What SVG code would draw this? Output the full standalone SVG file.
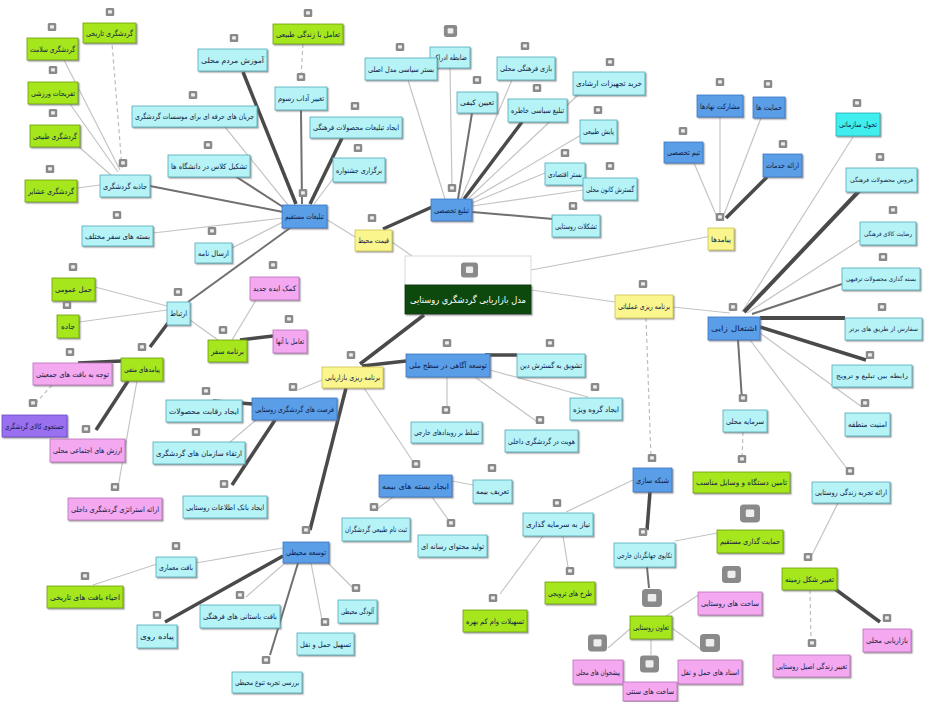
<svg xmlns="http://www.w3.org/2000/svg" xmlns:xlink="http://www.w3.org/1999/xlink" width="927" height="702" viewBox="0 0 927 702">
<defs>
<filter id="sh" x="-20%" y="-30%" width="150%" height="170%"><feDropShadow dx="1.3" dy="1.3" stdDeviation="0.6" flood-color="#666" flood-opacity="0.6"/></filter>
<symbol id="ic" viewBox="0 0 9 8" width="9" height="8"><rect x="0" y="0" width="9" height="8" rx="1.6" fill="#8a8a8a"/><rect x="2.6" y="2.2" width="3.8" height="3.4" rx="0.6" fill="#eeeeee"/></symbol>
</defs>
<style>
.n{filter:url(#sh);stroke-width:0.8}
.cy{fill:#b5f3f7;stroke:#4fa9b5}
.gr{fill:#a6e61c;stroke:#6f9a10}
.bl{fill:#5a9ee8;stroke:#3b74c0}
.ye{fill:#faf58c;stroke:#c8c050}
.pk{fill:#f3a8f0;stroke:#b870b8}
.pu{fill:#9a70f0;stroke:#6a48c0}
.cb{fill:#40eef0;stroke:#2aaab0}
text{font-family:"DejaVu Sans",sans-serif;font-size:7.5px;fill:#0f1a44;text-anchor:middle}
text.s{font-size:6.2px}
.t{stroke:#c4c4c4;stroke-width:1.2;fill:none}
.m{stroke:#707070;stroke-width:2;fill:none}
.k{stroke:#4a4a4a;stroke-width:3.5;fill:none}
.d{stroke:#bdbdbd;stroke-width:1.2;stroke-dasharray:4 3;fill:none}
</style>
<rect width="927" height="702" fill="#ffffff"/>
<g id="connectors">
<line class="t" x1="531" y1="270" x2="712" y2="236"/>
<line class="t" x1="531" y1="290" x2="615" y2="302"/>
<line class="t" x1="392" y1="242" x2="412" y2="256"/>
<line class="k" x1="424" y1="315" x2="360" y2="364"/>
<line class="t" x1="355" y1="237" x2="326" y2="219"/>
<line class="k" x1="383" y1="229" x2="432" y2="207"/>
<line class="k" x1="296" y1="204" x2="243" y2="72"/>
<line class="m" x1="302" y1="204" x2="301" y2="110"/>
<line class="k" x1="310" y1="204" x2="342" y2="138"/>
<line class="t" x1="314" y1="204" x2="335" y2="176"/>
<line class="t" x1="288" y1="205" x2="225" y2="127"/>
<line class="m" x1="283" y1="207" x2="235" y2="176"/>
<line class="m" x1="283" y1="212" x2="150" y2="186"/>
<line class="t" x1="283" y1="218" x2="153" y2="233"/>
<line class="t" x1="283" y1="222" x2="232" y2="248"/>
<line class="m" x1="290" y1="228" x2="188" y2="302"/>
<line class="d" x1="303" y1="44" x2="301" y2="76"/>
<line class="d" x1="122" y1="168" x2="112" y2="43"/>
<line class="t" x1="120" y1="170" x2="64" y2="60"/>
<line class="t" x1="118" y1="172" x2="70" y2="104"/>
<line class="t" x1="112" y1="176" x2="78" y2="146"/>
<line class="t" x1="100" y1="185" x2="77" y2="188"/>
<line class="t" x1="167" y1="306" x2="95" y2="287"/>
<line class="t" x1="167" y1="310" x2="79" y2="322"/>
<line class="k" x1="168" y1="323" x2="150" y2="347"/>
<line class="t" x1="190" y1="320" x2="218" y2="340"/>
<line class="t" x1="232" y1="340" x2="256" y2="300"/>
<line class="k" x1="240" y1="340" x2="273" y2="336"/>
<line class="k" x1="122" y1="361" x2="78" y2="363"/>
<line class="k" x1="128" y1="381" x2="96" y2="430"/>
<line class="t" x1="137" y1="381" x2="118" y2="487"/>
<line class="d" x1="52" y1="385" x2="36" y2="403"/>
<line class="k" x1="362" y1="366" x2="406" y2="361"/>
<line class="t" x1="322" y1="380" x2="298" y2="390"/>
<line class="k" x1="346" y1="388" x2="310" y2="530"/>
<line class="t" x1="364" y1="388" x2="416" y2="466"/>
<line class="k" x1="485" y1="355" x2="517" y2="355"/>
<line class="t" x1="490" y1="370" x2="588" y2="397"/>
<line class="t" x1="475" y1="377" x2="536" y2="421"/>
<line class="t" x1="447" y1="377" x2="447" y2="410"/>
<line class="k" x1="253" y1="404" x2="213" y2="401"/>
<line class="t" x1="256" y1="420" x2="230" y2="442"/>
<line class="k" x1="275" y1="420" x2="232" y2="485"/>
<line class="t" x1="283" y1="548" x2="196" y2="563"/>
<line class="k" x1="283" y1="556" x2="165" y2="622"/>
<line class="t" x1="285" y1="563" x2="246" y2="597"/>
<line class="t" x1="327" y1="562" x2="353" y2="588"/>
<line class="t" x1="311" y1="563" x2="322" y2="620"/>
<line class="m" x1="298" y1="563" x2="270" y2="655"/>
<line class="t" x1="157" y1="564" x2="93" y2="585"/>
<line class="t" x1="452" y1="481" x2="473" y2="485"/>
<line class="t" x1="393" y1="497" x2="377" y2="509"/>
<line class="t" x1="432" y1="497" x2="450" y2="522"/>
<line class="t" x1="673" y1="307" x2="730" y2="313"/>
<line class="d" x1="646" y1="318" x2="651" y2="458"/>
<line class="t" x1="742" y1="312" x2="853" y2="137"/>
<line class="k" x1="744" y1="312" x2="860" y2="190" style="stroke-width:4"/>
<line class="t" x1="747" y1="313" x2="860" y2="240"/>
<line class="m" x1="752" y1="314" x2="842" y2="284"/>
<line class="k" x1="760" y1="318" x2="845" y2="318" style="stroke-width:4"/>
<line class="k" x1="760" y1="327" x2="866" y2="360"/>
<line class="t" x1="760" y1="333" x2="862" y2="407"/>
<line class="m" x1="738" y1="340" x2="742" y2="400"/>
<line class="t" x1="750" y1="340" x2="848" y2="470"/>
<line class="d" x1="743" y1="432" x2="742" y2="460"/>
<line class="t" x1="838" y1="503" x2="812" y2="555"/>
<line class="k" x1="835" y1="589" x2="880" y2="622"/>
<line class="d" x1="810" y1="590" x2="811" y2="642"/>
<line class="t" x1="633" y1="480" x2="566" y2="512"/>
<line class="k" x1="650" y1="492" x2="647" y2="530"/>
<line class="t" x1="675" y1="541" x2="733" y2="530"/>
<line class="m" x1="647" y1="567" x2="649" y2="588"/>
<line class="t" x1="563" y1="536" x2="568" y2="567"/>
<line class="t" x1="543" y1="536" x2="500" y2="594"/>
<line class="t" x1="663" y1="618" x2="700" y2="594"/>
<line class="t" x1="631" y1="628" x2="608" y2="648"/>
<line class="t" x1="672" y1="628" x2="702" y2="650"/>
<line class="t" x1="651" y1="639" x2="651" y2="655"/>
<line class="t" x1="445" y1="199" x2="408" y2="80"/>
<line class="t" x1="452" y1="188" x2="450" y2="68"/>
<line class="m" x1="458" y1="199" x2="472" y2="113"/>
<line class="t" x1="461" y1="199" x2="512" y2="80"/>
<line class="k" x1="464" y1="199" x2="522" y2="122"/>
<line class="t" x1="468" y1="199" x2="578" y2="95"/>
<line class="t" x1="471" y1="200" x2="581" y2="135"/>
<line class="t" x1="472" y1="203" x2="545" y2="173"/>
<line class="t" x1="472" y1="206" x2="583" y2="190"/>
<line class="m" x1="472" y1="212" x2="553" y2="219"/>
<line class="t" x1="720" y1="217" x2="720" y2="117"/>
<line class="t" x1="723" y1="217" x2="761" y2="118"/>
<line class="t" x1="717" y1="217" x2="694" y2="163"/>
<line class="k" x1="726" y1="218" x2="767" y2="177"/>
</g>

<g id="root">
<rect x="405" y="256" width="126" height="29" fill="#ffffff" stroke="#d0d0d0" stroke-width="0.8"/>
<rect x="405" y="285" width="126" height="29" fill="#0b4a0b" stroke="#063006" class="n"/>
<use xlink:href="#ic" x="461" y="262" width="17" height="16"/>
<text x="468" y="303" style="font-size:9.5px;fill:#ffffff" textLength="116" lengthAdjust="spacingAndGlyphs">مدل بازاریابی گردشگری روستایی</text>
</g>

<g id="n_tarikhi"><rect class="n gr" x="83" y="23" width="53" height="20"/><use xlink:href="#ic" x="105.5" y="8"/><text x="109.5" y="35.7" textLength="47" lengthAdjust="spacingAndGlyphs">گردشگری تاریخی</text></g>
<g id="n_salamat"><rect class="n gr" x="27" y="38" width="51" height="22"/><use xlink:href="#ic" x="47.5" y="23"/><text x="52.5" y="51.7" textLength="45" lengthAdjust="spacingAndGlyphs">گردشگری سلامت</text></g>
<g id="n_tafrihi"><rect class="n gr" x="28" y="82" width="50" height="22"/><use xlink:href="#ic" x="48.5" y="66"/><text x="53" y="95.7" textLength="44" lengthAdjust="spacingAndGlyphs">تفریحات ورزشی</text></g>
<g id="n_tabiei"><rect class="n gr" x="30" y="125" width="50" height="22"/><use xlink:href="#ic" x="48.5" y="109"/><text x="55" y="138.7" textLength="44" lengthAdjust="spacingAndGlyphs">گردشگری طبیعی</text></g>
<g id="n_ashayer"><rect class="n gr" x="25" y="180" width="52" height="22"/><use xlink:href="#ic" x="45.5" y="165"/><text x="51" y="193.7" textLength="46" lengthAdjust="spacingAndGlyphs">گردشگری عشایر</text></g>
<g id="n_jazebe"><rect class="n cy" x="100" y="175" width="50" height="22"/><use xlink:href="#ic" x="118.5" y="159"/><text x="125" y="188.7" textLength="44" lengthAdjust="spacingAndGlyphs">جاذبه گردشگری</text></g>
<g id="n_baste"><rect class="n cy" x="82" y="226" width="71" height="20"/><use xlink:href="#ic" x="112.5" y="211"/><text x="117.5" y="238.7" textLength="65" lengthAdjust="spacingAndGlyphs">بسته های سفر مختلف</text></g>
<g id="n_ersal"><rect class="n cy" x="195" y="243" width="37" height="20"/><use xlink:href="#ic" x="207.5" y="227"/><text x="213.5" y="255.7" textLength="31" lengthAdjust="spacingAndGlyphs">ارسال نامه</text></g>
<g id="n_amoozesh"><rect class="n cy" x="198" y="49" width="69" height="22"/><use xlink:href="#ic" x="229.5" y="34"/><text x="232.5" y="62.7" textLength="63" lengthAdjust="spacingAndGlyphs">آموزش مردم محلی</text></g>
<g id="n_jaryan"><rect class="n cy" x="132" y="106" width="125" height="21"/><use xlink:href="#ic" x="188.5" y="91"/><text x="194.5" y="119.2" textLength="119" lengthAdjust="spacingAndGlyphs">جریان های حرفه ای برای موسسات گردشگری</text></g>
<g id="n_tashkil"><rect class="n cy" x="168" y="155" width="82" height="22"/><use xlink:href="#ic" x="203.5" y="141"/><text x="209" y="168.7" textLength="76" lengthAdjust="spacingAndGlyphs">تشکیل کلاس در دانشگاه ها</text></g>
<g id="n_taamol_z"><rect class="n gr" x="273" y="24" width="70" height="20"/><use xlink:href="#ic" x="303.5" y="9"/><text x="308" y="36.7" textLength="64" lengthAdjust="spacingAndGlyphs">تعامل با زندگی طبیعی</text></g>
<g id="n_adab"><rect class="n cy" x="275" y="87" width="52" height="23"/><use xlink:href="#ic" x="296.5" y="73"/><text x="301" y="101.2" textLength="46" lengthAdjust="spacingAndGlyphs">تغییر آداب رسوم</text></g>
<g id="n_tabligh_mah"><rect class="n cy" x="310" y="117" width="92" height="21"/><use xlink:href="#ic" x="350.5" y="102"/><text x="356" y="130.2" textLength="86" lengthAdjust="spacingAndGlyphs">ایجاد تبلیغات محصولات فرهنگی</text></g>
<g id="n_jashnvare"><rect class="n cy" x="333" y="158" width="52" height="24"/><use xlink:href="#ic" x="353.5" y="144"/><text x="359" y="172.7" textLength="46" lengthAdjust="spacingAndGlyphs">برگزاری جشنواره</text></g>
<g id="n_mostaghim"><rect class="n bl" x="282" y="205" width="45" height="23"/><use xlink:href="#ic" x="298.5" y="189"/><text x="304.5" y="219.2" textLength="39" lengthAdjust="spacingAndGlyphs">تبلیغات مستقیم</text></g>
<g id="n_gheymat"><rect class="n ye" x="355" y="230" width="37" height="21"/><use xlink:href="#ic" x="367.5" y="214"/><text x="373.5" y="243.2" textLength="31" lengthAdjust="spacingAndGlyphs">قیمت محیط</text></g>

<g id="n_takhasosi"><rect class="n bl" x="431" y="199" width="41" height="22"/><use xlink:href="#ic" x="447.5" y="184"/><text x="451.5" y="212.7" textLength="35" lengthAdjust="spacingAndGlyphs">تبلیغ تخصصی</text></g>
<g id="n_zabete"><rect class="n cy" x="430" y="47" width="40" height="21"/><use xlink:href="#ic" x="443.5" y="25" width="14" height="12"/><text x="450" y="60.2" textLength="34" lengthAdjust="spacingAndGlyphs">ضابطه ادراک</text></g>
<g id="n_bastar_siasi"><rect class="n cy" x="365" y="58" width="72" height="22"/><use xlink:href="#ic" x="395.5" y="43"/><text x="401" y="71.7" textLength="66" lengthAdjust="spacingAndGlyphs">بستر سیاسی مدل اصلی</text></g>
<g id="n_tayin"><rect class="n cy" x="457" y="92" width="40" height="21"/><use xlink:href="#ic" x="472.5" y="76"/><text x="477" y="105.2" textLength="34" lengthAdjust="spacingAndGlyphs">تعیین کیفی</text></g>
<g id="n_bazi"><rect class="n cy" x="497" y="57" width="58" height="23"/><use xlink:href="#ic" x="520.5" y="42"/><text x="526" y="71.2" textLength="52" lengthAdjust="spacingAndGlyphs">بازی فرهنگی محلی</text></g>
<g id="n_siasi_kh"><rect class="n cy" x="508" y="99" width="59" height="23"/><use xlink:href="#ic" x="532.5" y="84"/><text x="537.5" y="113.2" textLength="53" lengthAdjust="spacingAndGlyphs">تبلیغ سیاسی خاطره</text></g>
<g id="n_kharid"><rect class="n cy" x="573" y="72" width="72" height="23"/><use xlink:href="#ic" x="605.5" y="58"/><text x="609" y="86.2" textLength="66" lengthAdjust="spacingAndGlyphs">خرید تجهیزات ارشادی</text></g>
<g id="n_payesh"><rect class="n cy" x="580" y="120" width="37" height="23"/><use xlink:href="#ic" x="593.5" y="106"/><text x="598.5" y="134.2" textLength="31" lengthAdjust="spacingAndGlyphs">پایش طبیعی</text></g>
<g id="n_eghtesadi"><rect class="n cy" x="545" y="163" width="40" height="22"/><use xlink:href="#ic" x="560.5" y="149"/><text x="565" y="176.7" textLength="34" lengthAdjust="spacingAndGlyphs">بستر اقتصادی</text></g>
<g id="n_gostaresh"><rect class="n cy" x="583" y="178" width="54" height="22"/><use xlink:href="#ic" x="605.5" y="162"/><text x="610" y="191.7" textLength="48" lengthAdjust="spacingAndGlyphs">گسترش کانون محلی</text></g>
<g id="n_tashakolat"><rect class="n cy" x="552" y="215" width="48" height="22"/><use xlink:href="#ic" x="568.5" y="202"/><text x="576" y="228.7" textLength="42" lengthAdjust="spacingAndGlyphs">تشکلات روستایی</text></g>

<g id="n_payamad"><rect class="n ye" x="708" y="228" width="26" height="22"/><use xlink:href="#ic" x="715.5" y="213"/><text x="721" y="241.7" textLength="20" lengthAdjust="spacingAndGlyphs">پیامدها</text></g>
<g id="n_mosharekat"><rect class="n bl" x="697" y="95" width="46" height="22"/><use xlink:href="#ic" x="715.5" y="78"/><text x="720" y="108.7" textLength="40" lengthAdjust="spacingAndGlyphs">مشارکت نهادها</text></g>
<g id="n_hemayat"><rect class="n bl" x="753" y="97" width="32" height="21"/><use xlink:href="#ic" x="763.5" y="80"/><text x="769" y="110.2" textLength="26" lengthAdjust="spacingAndGlyphs">حمایت ها</text></g>
<g id="n_team"><rect class="n bl" x="664" y="142" width="39" height="21"/><use xlink:href="#ic" x="678.5" y="127"/><text x="683.5" y="155.2" textLength="33" lengthAdjust="spacingAndGlyphs">تیم تخصصی</text></g>
<g id="n_khadamat"><rect class="n bl" x="763" y="154" width="39" height="23"/><use xlink:href="#ic" x="778.5" y="140"/><text x="782.5" y="168.2" textLength="33" lengthAdjust="spacingAndGlyphs">ارائه خدمات</text></g>

<g id="n_eshteghal"><rect class="n bl" x="708" y="317" width="52" height="23"/><use xlink:href="#ic" x="728.5" y="303"/><text x="734" y="331.2" textLength="46" lengthAdjust="spacingAndGlyphs">اشتغال زایی</text></g>
<g id="n_tahavol"><rect class="n cb" x="836" y="113" width="44" height="23"/><use xlink:href="#ic" x="852.5" y="99"/><text x="858" y="127.2" textLength="38" lengthAdjust="spacingAndGlyphs">تحول سازمانی</text></g>
<g id="n_forush"><rect class="n cy" x="846" y="168" width="71" height="24"/><use xlink:href="#ic" x="875.5" y="153"/><text class="s" x="881.5" y="182.2" textLength="63" lengthAdjust="spacingAndGlyphs">فروش محصولات فرهنگی</text></g>
<g id="n_rezayat"><rect class="n cy" x="860" y="222" width="56" height="23"/><use xlink:href="#ic" x="888.5" y="206"/><text class="s" x="888" y="235.7" textLength="48" lengthAdjust="spacingAndGlyphs">رضایت کالای فرهنگی</text></g>
<g id="n_bastegozari"><rect class="n cy" x="842" y="268" width="78" height="22"/><use xlink:href="#ic" x="878.5" y="253"/><text class="s" x="881" y="281.2" textLength="70" lengthAdjust="spacingAndGlyphs">بسته گذاری محصولات ترفیهی</text></g>
<g id="n_sefarat"><rect class="n cy" x="845" y="318" width="77" height="22"/><use xlink:href="#ic" x="877.5" y="303"/><text class="s" x="883.5" y="331.2" textLength="69" lengthAdjust="spacingAndGlyphs">سفارش از طریق های برتر</text></g>
<g id="n_rabete"><rect class="n cy" x="832" y="365" width="80" height="22"/><use xlink:href="#ic" x="865.5" y="351"/><text class="s" x="872" y="378.2" textLength="72" lengthAdjust="spacingAndGlyphs">رابطه بین تبلیغ و ترویج</text></g>
<g id="n_amniat"><rect class="n cy" x="845" y="413" width="45" height="23"/><use xlink:href="#ic" x="860.5" y="399"/><text x="867.5" y="427.2" textLength="39" lengthAdjust="spacingAndGlyphs">امنیت منطقه</text></g>
<g id="n_sarmaye"><rect class="n cy" x="723" y="410" width="44" height="22"/><use xlink:href="#ic" x="738.5" y="394"/><text x="745" y="423.7" textLength="38" lengthAdjust="spacingAndGlyphs">سرمایه محلی</text></g>
<g id="n_tamin"><rect class="n gr" x="693" y="472" width="97" height="21"/><use xlink:href="#ic" x="737.5" y="455"/><text x="741.5" y="485.2" textLength="91" lengthAdjust="spacingAndGlyphs">تامین دستگاه و وسایل مناسب</text></g>
<g id="n_tajrobe"><rect class="n cy" x="812" y="482" width="78" height="21"/><use xlink:href="#ic" x="845.5" y="467"/><text x="851" y="495.2" textLength="72" lengthAdjust="spacingAndGlyphs">ارائه تجربه زندگی روستایی</text></g>
<g id="n_hemayat_gozari"><rect class="n gr" x="717" y="530" width="66" height="23"/><use xlink:href="#ic" x="740" y="504" width="20" height="19"/><text x="750" y="544.2" textLength="60" lengthAdjust="spacingAndGlyphs">حمایت گذاری مستقیم</text></g>
<g id="n_shekl"><rect class="n gr" x="782" y="568" width="55" height="22"/><use xlink:href="#ic" x="803.5" y="553"/><text x="809.5" y="581.7" textLength="49" lengthAdjust="spacingAndGlyphs">تغییر شکل زمینه</text></g>
<g id="n_bazaryabi_m"><rect class="n pk" x="863" y="629" width="48" height="23"/><use xlink:href="#ic" x="882.5" y="614"/><text x="887" y="643.2" textLength="42" lengthAdjust="spacingAndGlyphs">بازاریابی محلی</text></g>
<g id="n_asil"><rect class="n pk" x="773" y="655" width="77" height="22"/><use xlink:href="#ic" x="807.5" y="639"/><text x="811.5" y="668.7" textLength="71" lengthAdjust="spacingAndGlyphs">تغییر زندگی اصیل روستایی</text></g>
<g id="n_sakht_r"><rect class="n pk" x="698" y="592" width="64" height="23"/><use xlink:href="#ic" x="722" y="565" width="19" height="19"/><text x="730" y="606.2" textLength="58" lengthAdjust="spacingAndGlyphs">ساخت های روستایی</text></g>
<g id="n_asnad"><rect class="n pk" x="678" y="660" width="64" height="24"/><use xlink:href="#ic" x="700" y="633" width="20" height="20"/><text x="710" y="674.7" textLength="58" lengthAdjust="spacingAndGlyphs">اسناد های حمل و نقل</text></g>

<g id="n_amaliati"><rect class="n ye" x="615" y="295" width="58" height="23"/><use xlink:href="#ic" x="638.5" y="280"/><text x="644" y="309.2" textLength="52" lengthAdjust="spacingAndGlyphs">برنامه ریزی عملیاتی</text></g>
<g id="n_shabake"><rect class="n bl" x="633" y="468" width="39" height="24"/><use xlink:href="#ic" x="647.5" y="454"/><text x="652.5" y="482.7" textLength="33" lengthAdjust="spacingAndGlyphs">شبکه سازی</text></g>
<g id="n_niaz"><rect class="n cy" x="523" y="513" width="70" height="23"/><use xlink:href="#ic" x="552.5" y="499"/><text x="558" y="527.2" textLength="64" lengthAdjust="spacingAndGlyphs">نیاز به سرمایه گذاری</text></g>
<g id="n_tarh"><rect class="n gr" x="545" y="582" width="50" height="22"/><use xlink:href="#ic" x="565.5" y="567"/><text x="570" y="595.7" textLength="44" lengthAdjust="spacingAndGlyphs">طرح های ترویجی</text></g>
<g id="n_tashilat"><rect class="n gr" x="463" y="610" width="64" height="22"/><use xlink:href="#ic" x="488.5" y="594"/><text x="495" y="623.7" textLength="58" lengthAdjust="spacingAndGlyphs">تسهیلات وام کم بهره</text></g>
<g id="n_takapu"><rect class="n cy" x="614" y="543" width="61" height="24"/><use xlink:href="#ic" x="638.5" y="528"/><text x="644.5" y="557.7" textLength="55" lengthAdjust="spacingAndGlyphs">تکاپوی جهانگردان خارجی</text></g>
<g id="n_taavon"><rect class="n gr" x="630" y="616" width="42" height="23"/><use xlink:href="#ic" x="642" y="588" width="20" height="20"/><text x="651" y="630.2" textLength="36" lengthAdjust="spacingAndGlyphs">تعاون روستایی</text></g>
<g id="n_pishkhan"><rect class="n pk" x="573" y="660" width="50" height="24"/><use xlink:href="#ic" x="588" y="633" width="19" height="20"/><text x="598" y="674.7" textLength="44" lengthAdjust="spacingAndGlyphs">پیشخوان های محلی</text></g>
<g id="n_sonati"><rect class="n pk" x="623" y="682" width="54" height="19"/><use xlink:href="#ic" x="640" y="655" width="19" height="18"/><text x="650" y="694.2" textLength="48" lengthAdjust="spacingAndGlyphs">ساخت های سنتی</text></g>

<g id="n_barname_b"><rect class="n ye" x="322" y="367" width="61" height="21"/><use xlink:href="#ic" x="346.5" y="351"/><text x="352.5" y="380.2" textLength="55" lengthAdjust="spacingAndGlyphs">برنامه ریزی بازاریابی</text></g>
<g id="n_agahi"><rect class="n bl" x="406" y="354" width="84" height="23"/><use xlink:href="#ic" x="442.5" y="339"/><text x="448" y="368.2" textLength="78" lengthAdjust="spacingAndGlyphs">توسعه آگاهی در سطح ملی</text></g>
<g id="n_tashvigh"><rect class="n cy" x="517" y="354" width="68" height="23"/><use xlink:href="#ic" x="545.5" y="339"/><text x="551" y="368.2" textLength="62" lengthAdjust="spacingAndGlyphs">تشویق به گسترش دین</text></g>
<g id="n_gorooh"><rect class="n cy" x="570" y="398" width="52" height="22"/><use xlink:href="#ic" x="590.5" y="383"/><text x="596" y="411.7" textLength="46" lengthAdjust="spacingAndGlyphs">ایجاد گروه ویژه</text></g>
<g id="n_hoviat"><rect class="n cy" x="505" y="430" width="73" height="22"/><use xlink:href="#ic" x="535.5" y="416"/><text x="541.5" y="443.7" textLength="67" lengthAdjust="spacingAndGlyphs">هویت در گردشگری داخلی</text></g>
<g id="n_tasalot"><rect class="n cy" x="411" y="422" width="71" height="21"/><use xlink:href="#ic" x="441.5" y="406"/><text x="446.5" y="435.2" textLength="65" lengthAdjust="spacingAndGlyphs">تسلط بر رویدادهای خارجی</text></g>
<g id="n_bime"><rect class="n bl" x="379" y="475" width="73" height="22"/><use xlink:href="#ic" x="411.5" y="460"/><text x="415.5" y="488.7" textLength="67" lengthAdjust="spacingAndGlyphs">ایجاد بسته های بیمه</text></g>
<g id="n_tarif"><rect class="n cy" x="473" y="480" width="39" height="23"/><use xlink:href="#ic" x="487.5" y="464"/><text x="492.5" y="494.2" textLength="33" lengthAdjust="spacingAndGlyphs">تعریف بیمه</text></g>
<g id="n_sabt"><rect class="n cy" x="342" y="518" width="68" height="23"/><use xlink:href="#ic" x="369.5" y="503"/><text x="376" y="532.2" textLength="62" lengthAdjust="spacingAndGlyphs">ثبت نام طبیعی گردشگران</text></g>
<g id="n_tolid"><rect class="n cy" x="418" y="535" width="69" height="22"/><use xlink:href="#ic" x="446.5" y="519"/><text x="452.5" y="548.7" textLength="63" lengthAdjust="spacingAndGlyphs">تولید محتوای رسانه ای</text></g>

<g id="n_ertebat"><rect class="n cy" x="167" y="302" width="23" height="23"/><use xlink:href="#ic" x="173.5" y="288"/><text x="178.5" y="316.2" textLength="17" lengthAdjust="spacingAndGlyphs">ارتباط</text></g>
<g id="n_haml"><rect class="n gr" x="52" y="278" width="43" height="23"/><use xlink:href="#ic" x="68.5" y="263"/><text x="73.5" y="292.2" textLength="37" lengthAdjust="spacingAndGlyphs">حمل عمومی</text></g>
<g id="n_jade"><rect class="n gr" x="57" y="315" width="22" height="23"/><use xlink:href="#ic" x="62.5" y="301"/><text x="68" y="329.2" textLength="14" lengthAdjust="spacingAndGlyphs">جاده</text></g>
<g id="n_payamad_m"><rect class="n gr" x="121" y="358" width="42" height="23"/><use xlink:href="#ic" x="137.5" y="343"/><text x="142" y="372.2" textLength="36" lengthAdjust="spacingAndGlyphs">پیامدهای منفی</text></g>
<g id="n_barname_s"><rect class="n gr" x="208" y="340" width="39" height="22"/><use xlink:href="#ic" x="218.5" y="326"/><text x="227.5" y="353.7" textLength="33" lengthAdjust="spacingAndGlyphs">برنامه سفر</text></g>
<g id="n_komak"><rect class="n pk" x="250" y="277" width="49" height="23"/><use xlink:href="#ic" x="268.5" y="261"/><text x="274.5" y="291.2" textLength="43" lengthAdjust="spacingAndGlyphs">کمک ایده جدید</text></g>
<g id="n_taamol_a"><rect class="n pk" x="273" y="330" width="34" height="23"/><use xlink:href="#ic" x="284.5" y="315"/><text x="290" y="344.2" textLength="28" lengthAdjust="spacingAndGlyphs">تعامل با آنها</text></g>
<g id="n_tavajoh"><rect class="n pk" x="33" y="363" width="79" height="22"/><use xlink:href="#ic" x="65.5" y="348"/><text x="72.5" y="376.7" textLength="73" lengthAdjust="spacingAndGlyphs">توجه به بافت های جمعیتی</text></g>
<g id="n_jostoju"><rect class="n pu" x="2" y="415" width="65" height="22"/><use xlink:href="#ic" x="28.5" y="399"/><text x="34.5" y="428.7" textLength="59" lengthAdjust="spacingAndGlyphs">جستجوی کالای گردشگری</text></g>
<g id="n_arzesh"><rect class="n pk" x="50" y="439" width="75" height="23"/><use xlink:href="#ic" x="81.5" y="425"/><text x="87.5" y="453.2" textLength="69" lengthAdjust="spacingAndGlyphs">ارزش های اجتماعی محلی</text></g>
<g id="n_estrateji"><rect class="n pk" x="68" y="498" width="94" height="22"/><use xlink:href="#ic" x="110.5" y="483"/><text x="115" y="511.7" textLength="88" lengthAdjust="spacingAndGlyphs">ارائه استراتژی گردشگری داخلی</text></g>
<g id="n_forsat"><rect class="n bl" x="252" y="398" width="85" height="22"/><use xlink:href="#ic" x="288.5" y="383"/><text x="294.5" y="411.7" textLength="79" lengthAdjust="spacingAndGlyphs">فرصت های گردشگری روستایی</text></g>
<g id="n_reghabat"><rect class="n cy" x="166" y="400" width="76" height="22"/><use xlink:href="#ic" x="201.5" y="387"/><text x="204" y="413.7" textLength="70" lengthAdjust="spacingAndGlyphs">ایجاد رقابت محصولات</text></g>
<g id="n_erteghaa"><rect class="n cy" x="153" y="442" width="92" height="22"/><use xlink:href="#ic" x="191.5" y="428"/><text x="199" y="455.7" textLength="86" lengthAdjust="spacingAndGlyphs">ارتقاء سازمان های گردشگری</text></g>
<g id="n_bank"><rect class="n cy" x="183" y="496" width="84" height="22"/><use xlink:href="#ic" x="219.5" y="480"/><text x="225" y="509.7" textLength="78" lengthAdjust="spacingAndGlyphs">ایجاد بانک اطلاعات روستایی</text></g>
<g id="n_mohiti"><rect class="n bl" x="283" y="542" width="46" height="21"/><use xlink:href="#ic" x="301.5" y="526"/><text x="306" y="555.2" textLength="40" lengthAdjust="spacingAndGlyphs">توسعه محیطی</text></g>
<g id="n_meamari"><rect class="n cy" x="156" y="557" width="40" height="20"/><use xlink:href="#ic" x="171.5" y="542"/><text x="176" y="569.7" textLength="34" lengthAdjust="spacingAndGlyphs">بافت معماری</text></g>
<g id="n_ehya"><rect class="n gr" x="47" y="586" width="76" height="22"/><use xlink:href="#ic" x="80.5" y="572"/><text x="85" y="599.7" textLength="70" lengthAdjust="spacingAndGlyphs">احیاء بافت های تاریخی</text></g>
<g id="n_piade"><rect class="n cy" x="137" y="625" width="40" height="23"/><use xlink:href="#ic" x="152.5" y="611"/><text x="157" y="639.2" textLength="34" lengthAdjust="spacingAndGlyphs">پیاده روی</text></g>
<g id="n_bastani"><rect class="n cy" x="200" y="605" width="80" height="23"/><use xlink:href="#ic" x="235.5" y="591"/><text x="240" y="619.2" textLength="74" lengthAdjust="spacingAndGlyphs">بافت باستانی های فرهنگی</text></g>
<g id="n_aloodegi"><rect class="n cy" x="338" y="600" width="39" height="23"/><use xlink:href="#ic" x="351.5" y="584"/><text x="357.5" y="614.2" textLength="33" lengthAdjust="spacingAndGlyphs">آلودگی محیطی</text></g>
<g id="n_haml_naghl"><rect class="n cy" x="297" y="633" width="57" height="22"/><use xlink:href="#ic" x="320.5" y="618"/><text x="325.5" y="646.7" textLength="51" lengthAdjust="spacingAndGlyphs">تسهیل حمل و نقل</text></g>
<g id="n_barresi"><rect class="n cy" x="232" y="672" width="70" height="21"/><use xlink:href="#ic" x="261.5" y="656"/><text x="267" y="685.2" textLength="64" lengthAdjust="spacingAndGlyphs">بررسی تجربه تنوع محیطی</text></g>
</svg>
